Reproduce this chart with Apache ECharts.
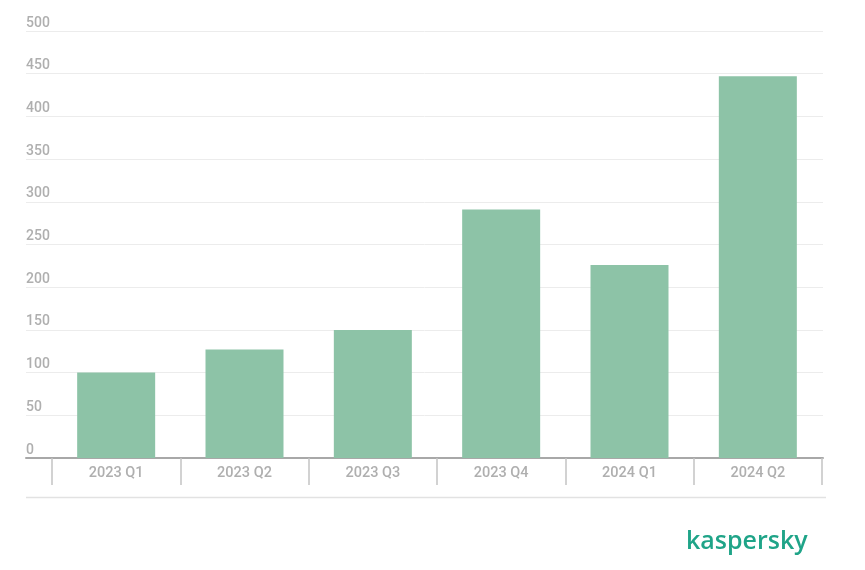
<!DOCTYPE html>
<html><head><meta charset="utf-8">
<script src="https://cdn.jsdelivr.net/npm/echarts@6/dist/echarts.min.js"></script>
<style>html,body{margin:0;padding:0;background:#fff}#c{width:865px;height:570px}</style>
</head><body><div id="c"></div>
<script>
const categories = ['2023 Q1','2023 Q2','2023 Q3','2023 Q4','2024 Q1','2024 Q2'];
const values = [100, 127, 150, 291, 226, 447];
const yTicks = [0, 50, 100, 150, 200, 250, 300, 350, 400, 450, 500];

const chart = echarts.init(document.getElementById('c'));
const labelColor = '#afafaf';
chart.setOption({
  animation: false,
  grid: [
    {left: 26, right: 42, top: 31, bottom: 112},
    {left: 52, right: 43, top: 31, bottom: 112}
  ],
  xAxis: [
    {gridIndex: 0, type: 'value', min: 0, max: 1, show: true,
     axisLine: {show: true, lineStyle: {color: '#a8a8a8', width: 2}},
     axisTick: {show: false}, axisLabel: {show: false}, splitLine: {show: false}},
    {gridIndex: 1, type: 'category', data: categories,
     axisLine: {show: false},
     axisTick: {show: true, length: 27, lineStyle: {color: '#c4c4c4', width: 1.5}},
     axisLabel: {color: labelColor, fontFamily: 'Roboto', fontSize: 14.5, fontWeight: 500, margin: 8}}
  ],
  yAxis: [
    {gridIndex: 0, type: 'value', min: 0, max: 500, interval: 50,
     axisLine: {show: false}, axisTick: {show: false},
     axisLabel: {inside: true, margin: 0, color: labelColor, fontFamily: 'Roboto', fontSize: 14, fontWeight: 500,
       verticalAlign: 'bottom', padding: [0, 0, 1, 0],
       formatter: v => yTicks.includes(v) ? String(v) : ''},
     splitLine: {lineStyle: {color: '#ececec', width: 1}}},
    {gridIndex: 1, type: 'value', min: 0, max: 500, interval: 50, show: false, splitLine: {show: false}}
  ],
  series: [{
    type: 'bar', xAxisIndex: 1, yAxisIndex: 1, data: values,
    barWidth: 78,
    itemStyle: {color: '#8dc3a7'}
  }],
  graphic: [
    {type: 'line', shape: {x1: 26, y1: 497.5, x2: 826, y2: 497.5}, style: {stroke: '#e2e2e2', lineWidth: 1.5}},
    {type: 'text', left: 686, top: 529, style: {text: 'kaspersky', fill: '#1fa488', font: '600 25px "Open Sans", sans-serif'}}
  ]
});
</script></body></html>
